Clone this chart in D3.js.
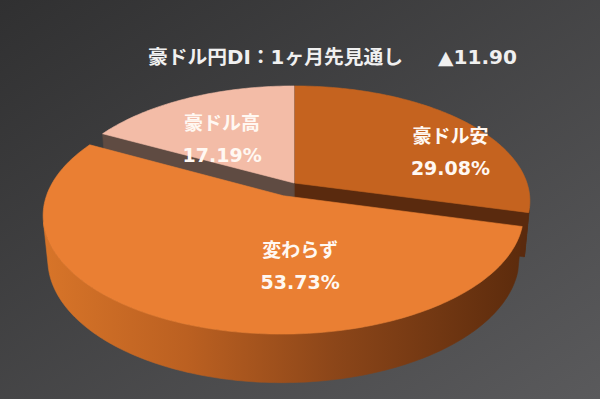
<!DOCTYPE html>
<html>
<head>
<meta charset="utf-8">
<script src="https://cdn.jsdelivr.net/npm/d3@7"></script>
<style>
  body { margin: 0; overflow: hidden; background: #404041; }
  text { font-family: "DejaVu Sans", "Noto Sans CJK JP", sans-serif; font-weight: bold; }
</style>
</head>
<body>
<svg id="chart" width="600" height="399"></svg>
<script>
// data
const categories = ['豪ドル安', '変わらず', '豪ドル高'];
const shares = [29.08, 53.73, 17.19];
const titleText = '豪ドル円DI：1ヶ月先見通し';
const diText = '▲11.90';

// look
const topColors = ['#c5631f', '#ea7f33', '#f3bca7'];
const cutColors = ['#5a2a0e', '#7a3a12', '#5f4b42'];
const wallColors = ['#5c2b0d', 'url(#wallGrad)', '#6a5248'];
const explode = [0, 28, 0];
const labelSpot = [[13.8, 0.77], [-28.6, 0.54], [-5.9, 0.55]]; // [deg shift from mid angle, radius fraction]

const svg = d3.select('#chart');
const W = +svg.attr('width'), H = +svg.attr('height');

const defs = svg.append('defs');
const bg = defs.append('linearGradient').attr('id', 'bgGrad')
  .attr('x1', 0).attr('y1', 0).attr('x2', 1).attr('y2', 1);
bg.append('stop').attr('offset', 0).attr('stop-color', '#303031');
bg.append('stop').attr('offset', 1).attr('stop-color', '#5a5a5c');

const wg = defs.append('linearGradient').attr('id', 'wallGrad')
  .attr('gradientUnits', 'userSpaceOnUse')
  .attr('x1', 40).attr('y1', 0).attr('x2', 530).attr('y2', 0);
[[0, '#d87529'], [0.3, '#bb6021'], [0.6, '#8c4619'], [1, '#5a2a0c']].forEach(s =>
  wg.append('stop').attr('offset', s[0]).attr('stop-color', s[1]));

svg.append('rect').attr('width', W).attr('height', H).attr('fill', 'url(#bgGrad)');

// simple perspective camera
const cx = 294, cy = 183, R = 233, thick = 50;
const D = 1305, f = 1305;
const phi = 28.8 * Math.PI / 180;
const sinP = Math.sin(phi), cosP = Math.cos(phi);
const cam = [0, D * sinP, -D * cosP];

function project(X, Y, Z) {
  const up = Y * cosP + Z * sinP;
  const dz = D + Z * cosP - Y * sinP;
  return [cx + f * X / dz, cy - f * up / dz];
}

const pie = d3.pie().sort(null).value(d => d)(shares);

const slices = pie.map((p, i) => {
  const mid = (p.startAngle + p.endAngle) / 2;
  return {
    i, a0: p.startAngle, a1: p.endAngle, mid,
    ox: explode[i] * Math.sin(mid), oz: explode[i] * Math.cos(mid)
  };
});

function pt(s, a, r, Y) {
  return project(s.ox + r * Math.sin(a), Y, s.oz + r * Math.cos(a));
}
function arcPts(s, a0, a1, Y) {
  const n = Math.max(2, Math.ceil((a1 - a0) / (Math.PI / 180)));
  return d3.range(n + 1).map(k => pt(s, a0 + (a1 - a0) * k / n, R, Y));
}
const line = d3.line();

function faces(s) {
  const out = [];
  // outer wall, only parts facing the camera
  const n = Math.ceil((s.a1 - s.a0) / (Math.PI / 180));
  let run = null;
  const runs = [];
  for (let k = 0; k <= n; k++) {
    const a = s.a0 + (s.a1 - s.a0) * k / n;
    const nx = Math.sin(a), nz = Math.cos(a);
    const px = s.ox + R * nx, pz = s.oz + R * nz;
    const facing = nx * (cam[0] - px) + nz * (cam[2] - pz) > 0;
    if (facing) { if (!run) run = [a, a]; run[1] = a; }
    else if (run) { runs.push(run); run = null; }
  }
  if (run) runs.push(run);
  runs.forEach(rn => {
    const topPts = arcPts(s, rn[0], rn[1], 0);
    const botPts = arcPts(s, rn[0], rn[1], -thick).reverse();
    out.push({ d: line(topPts.concat(botPts)) + 'Z', fill: wallColors[s.i] });
  });
  // cut faces
  [[s.a0, -1], [s.a1, 1]].forEach(([a, side]) => {
    const nx = side * Math.cos(a), nz = -side * Math.sin(a);
    const facing = nx * (cam[0] - s.ox) + nz * (cam[2] - s.oz) > 0;
    if (facing) {
      const c0 = project(s.ox, 0, s.oz), c1 = project(s.ox, -thick, s.oz);
      out.push({ d: line([c0, pt(s, a, R, 0), pt(s, a, R, -thick), c1]) + 'Z', fill: cutColors[s.i] });
    }
  });
  // top
  const tp = [project(s.ox, 0, s.oz)].concat(arcPts(s, s.a0, s.a1, 0));
  out.push({ d: line(tp) + 'Z', fill: topColors[s.i] });
  return out;
}

// far slices first
const order = slices.slice().sort((a, b) => b.oz - a.oz);
const g = svg.append('g');
order.forEach(s => {
  g.selectAll(null).data(faces(s)).enter().append('path')
    .attr('d', d => d.d).attr('fill', d => d.fill)
    .attr('stroke', d => d.fill).attr('stroke-width', 0.6);
});

// labels
slices.forEach(s => {
  const a = s.mid + labelSpot[s.i][0] * Math.PI / 180;
  const p = pt(s, a, R * labelSpot[s.i][1], 0);
  const lg = svg.append('g').attr('fill', '#fff8f2').attr('text-anchor', 'middle').attr('font-size', 19);
  lg.append('text').attr('x', p[0]).attr('y', p[1] - 7).text(categories[s.i]);
  lg.append('text').attr('x', p[0]).attr('y', p[1] + 25).text(shares[s.i].toFixed(2) + '%');
});

// title
svg.append('text').attr('x', 148).attr('y', 64).attr('font-size', 19).attr('fill', '#f0f0f0')
  .attr('textLength', 255).attr('lengthAdjust', 'spacingAndGlyphs').text(titleText);
svg.append('text').attr('x', 438).attr('y', 64).attr('font-size', 19).attr('fill', '#f0f0f0')
  .attr('textLength', 79).attr('lengthAdjust', 'spacingAndGlyphs').text(diText);
</script>
</body>
</html>
